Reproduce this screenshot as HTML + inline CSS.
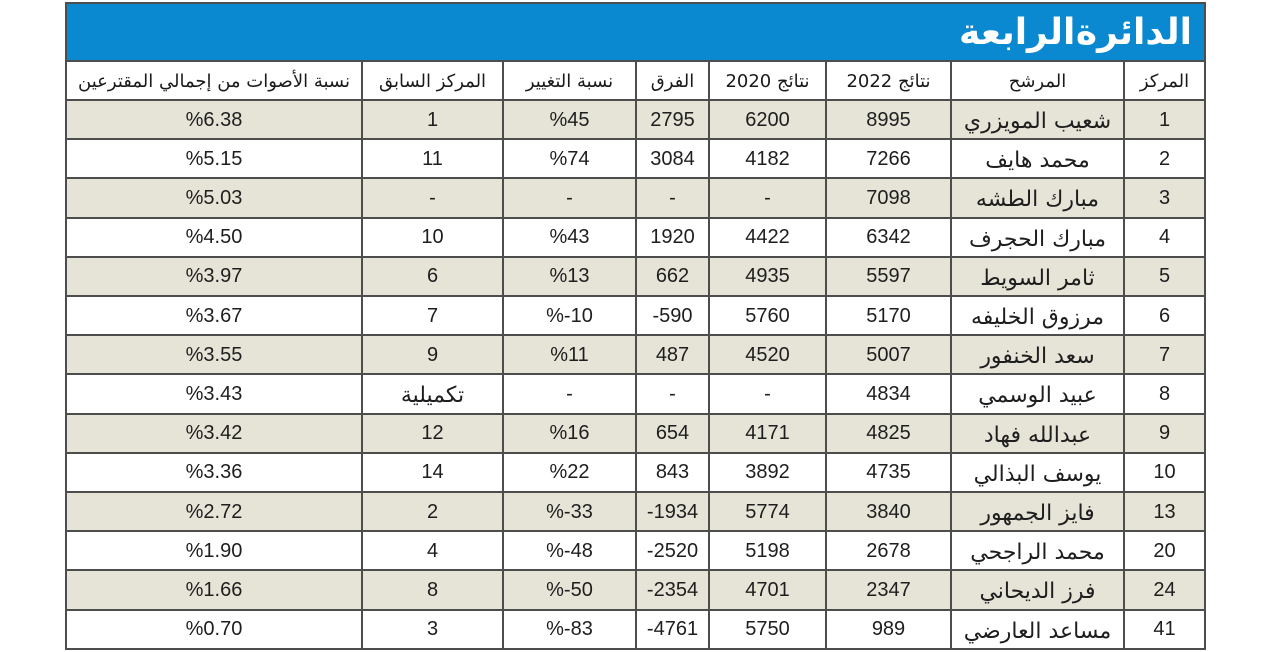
<!DOCTYPE html>
<html><head><meta charset="utf-8">
<style>
html,body{margin:0;padding:0;background:#fff;}
body{width:1280px;height:652px;position:relative;overflow:hidden;font-family:"Liberation Sans","DejaVu Sans",sans-serif;color:#1e1e1e;}
.box{position:absolute;left:65px;top:2px;width:1141px;height:648px;border:2px solid #4d4d4d;box-sizing:border-box;}
.blue{position:absolute;left:67px;top:4px;width:1137px;height:56px;background:#0a89d0;}
.title{position:absolute;right:88px;top:6px;height:54px;line-height:54px;color:#fff;font-family:"DejaVu Sans",sans-serif;font-weight:bold;font-size:36px;direction:rtl;letter-spacing:-1px;word-spacing:-12px;}
.sh{position:absolute;left:67px;width:1137px;height:39.2px;background:#e6e3d7;}
.h{position:absolute;left:66px;width:1140px;height:2px;background:#4d4d4d;}
.v{position:absolute;top:61px;height:588px;width:2px;background:#4d4d4d;}
.r{position:absolute;left:66px;width:1139px;height:39.2px;display:flex;direction:ltr;}
.r div{box-sizing:border-box;display:flex;align-items:center;justify-content:center;font-size:20px;white-space:nowrap;padding-top:1px;}
.c1{width:296px}.c2{width:141px}.c3{width:133px}.c4{width:73px}.c5{width:117px}.c6{width:125px}.c7{width:173px}.c8{width:81px}
.ar{font-family:"DejaVu Sans",sans-serif;direction:rtl;}
.hd div{font-size:18px;color:#1a1a1a;}
.nm{font-family:"DejaVu Sans",sans-serif;direction:rtl;font-size:22px !important;padding-top:4px !important;}
</style></head><body>
<div class="blue"></div>
<div class="title">الدائرة الرابعة</div>

<div class="sh" style="top:101px"></div>
<div class="sh" style="top:179.4px"></div>
<div class="sh" style="top:257.8px"></div>
<div class="sh" style="top:336.2px"></div>
<div class="sh" style="top:414.6px"></div>
<div class="sh" style="top:493px"></div>
<div class="sh" style="top:571.4px"></div>

<div class="h" style="top:60px"></div>
<div class="h" style="top:99px"></div>
<div class="h" style="top:138.2px"></div>
<div class="h" style="top:177.4px"></div>
<div class="h" style="top:216.6px"></div>
<div class="h" style="top:255.8px"></div>
<div class="h" style="top:295px"></div>
<div class="h" style="top:334.2px"></div>
<div class="h" style="top:373.4px"></div>
<div class="h" style="top:412.6px"></div>
<div class="h" style="top:451.8px"></div>
<div class="h" style="top:491px"></div>
<div class="h" style="top:530.2px"></div>
<div class="h" style="top:569.4px"></div>
<div class="h" style="top:608.6px"></div>

<div class="v" style="left:361px"></div>
<div class="v" style="left:502px"></div>
<div class="v" style="left:635px"></div>
<div class="v" style="left:708px"></div>
<div class="v" style="left:825px"></div>
<div class="v" style="left:950px"></div>
<div class="v" style="left:1123px"></div>

<div class="box"></div>

<div class="r hd" style="top:61px;height:39px">
<div class="c1 ar">نسبة الأصوات من إجمالي المقترعين</div><div class="c2 ar">المركز السابق</div><div class="c3 ar">نسبة التغيير</div><div class="c4 ar">الفرق</div><div class="c5 ar">نتائج 2020</div><div class="c6 ar">نتائج 2022</div><div class="c7 ar">المرشح</div><div class="c8 ar">المركز</div>
</div>

<div class="r" style="top:100px"><div class="c1"><bdo dir="ltr">%6.38</bdo></div><div class="c2">1</div><div class="c3"><bdo dir="ltr">%45</bdo></div><div class="c4">2795</div><div class="c5">6200</div><div class="c6">8995</div><div class="c7 nm">شعيب المويزري</div><div class="c8">1</div></div>
<div class="r" style="top:139.2px"><div class="c1"><bdo dir="ltr">%5.15</bdo></div><div class="c2">11</div><div class="c3"><bdo dir="ltr">%74</bdo></div><div class="c4">3084</div><div class="c5">4182</div><div class="c6">7266</div><div class="c7 nm">محمد هايف</div><div class="c8">2</div></div>
<div class="r" style="top:178.4px"><div class="c1"><bdo dir="ltr">%5.03</bdo></div><div class="c2">-</div><div class="c3">-</div><div class="c4">-</div><div class="c5">-</div><div class="c6">7098</div><div class="c7 nm">مبارك الطشه</div><div class="c8">3</div></div>
<div class="r" style="top:217.6px"><div class="c1"><bdo dir="ltr">%4.50</bdo></div><div class="c2">10</div><div class="c3"><bdo dir="ltr">%43</bdo></div><div class="c4">1920</div><div class="c5">4422</div><div class="c6">6342</div><div class="c7 nm">مبارك الحجرف</div><div class="c8">4</div></div>
<div class="r" style="top:256.8px"><div class="c1"><bdo dir="ltr">%3.97</bdo></div><div class="c2">6</div><div class="c3"><bdo dir="ltr">%13</bdo></div><div class="c4">662</div><div class="c5">4935</div><div class="c6">5597</div><div class="c7 nm">ثامر السويط</div><div class="c8">5</div></div>
<div class="r" style="top:296px"><div class="c1"><bdo dir="ltr">%3.67</bdo></div><div class="c2">7</div><div class="c3"><bdo dir="ltr">%-10</bdo></div><div class="c4"><bdo dir="ltr">-590</bdo></div><div class="c5">5760</div><div class="c6">5170</div><div class="c7 nm">مرزوق الخليفه</div><div class="c8">6</div></div>
<div class="r" style="top:335.2px"><div class="c1"><bdo dir="ltr">%3.55</bdo></div><div class="c2">9</div><div class="c3"><bdo dir="ltr">%11</bdo></div><div class="c4">487</div><div class="c5">4520</div><div class="c6">5007</div><div class="c7 nm">سعد الخنفور</div><div class="c8">7</div></div>
<div class="r" style="top:374.4px"><div class="c1"><bdo dir="ltr">%3.43</bdo></div><div class="c2 nm">تكميلية</div><div class="c3">-</div><div class="c4">-</div><div class="c5">-</div><div class="c6">4834</div><div class="c7 nm">عبيد الوسمي</div><div class="c8">8</div></div>
<div class="r" style="top:413.6px"><div class="c1"><bdo dir="ltr">%3.42</bdo></div><div class="c2">12</div><div class="c3"><bdo dir="ltr">%16</bdo></div><div class="c4">654</div><div class="c5">4171</div><div class="c6">4825</div><div class="c7 nm">عبدالله فهاد</div><div class="c8">9</div></div>
<div class="r" style="top:452.8px"><div class="c1"><bdo dir="ltr">%3.36</bdo></div><div class="c2">14</div><div class="c3"><bdo dir="ltr">%22</bdo></div><div class="c4">843</div><div class="c5">3892</div><div class="c6">4735</div><div class="c7 nm">يوسف البذالي</div><div class="c8">10</div></div>
<div class="r" style="top:492px"><div class="c1"><bdo dir="ltr">%2.72</bdo></div><div class="c2">2</div><div class="c3"><bdo dir="ltr">%-33</bdo></div><div class="c4"><bdo dir="ltr">-1934</bdo></div><div class="c5">5774</div><div class="c6">3840</div><div class="c7 nm">فايز الجمهور</div><div class="c8">13</div></div>
<div class="r" style="top:531.2px"><div class="c1"><bdo dir="ltr">%1.90</bdo></div><div class="c2">4</div><div class="c3"><bdo dir="ltr">%-48</bdo></div><div class="c4"><bdo dir="ltr">-2520</bdo></div><div class="c5">5198</div><div class="c6">2678</div><div class="c7 nm">محمد الراجحي</div><div class="c8">20</div></div>
<div class="r" style="top:570.4px"><div class="c1"><bdo dir="ltr">%1.66</bdo></div><div class="c2">8</div><div class="c3"><bdo dir="ltr">%-50</bdo></div><div class="c4"><bdo dir="ltr">-2354</bdo></div><div class="c5">4701</div><div class="c6">2347</div><div class="c7 nm">فرز الديحاني</div><div class="c8">24</div></div>
<div class="r" style="top:609.6px"><div class="c1"><bdo dir="ltr">%0.70</bdo></div><div class="c2">3</div><div class="c3"><bdo dir="ltr">%-83</bdo></div><div class="c4"><bdo dir="ltr">-4761</bdo></div><div class="c5">5750</div><div class="c6">989</div><div class="c7 nm">مساعد العارضي</div><div class="c8">41</div></div>
</body></html>
